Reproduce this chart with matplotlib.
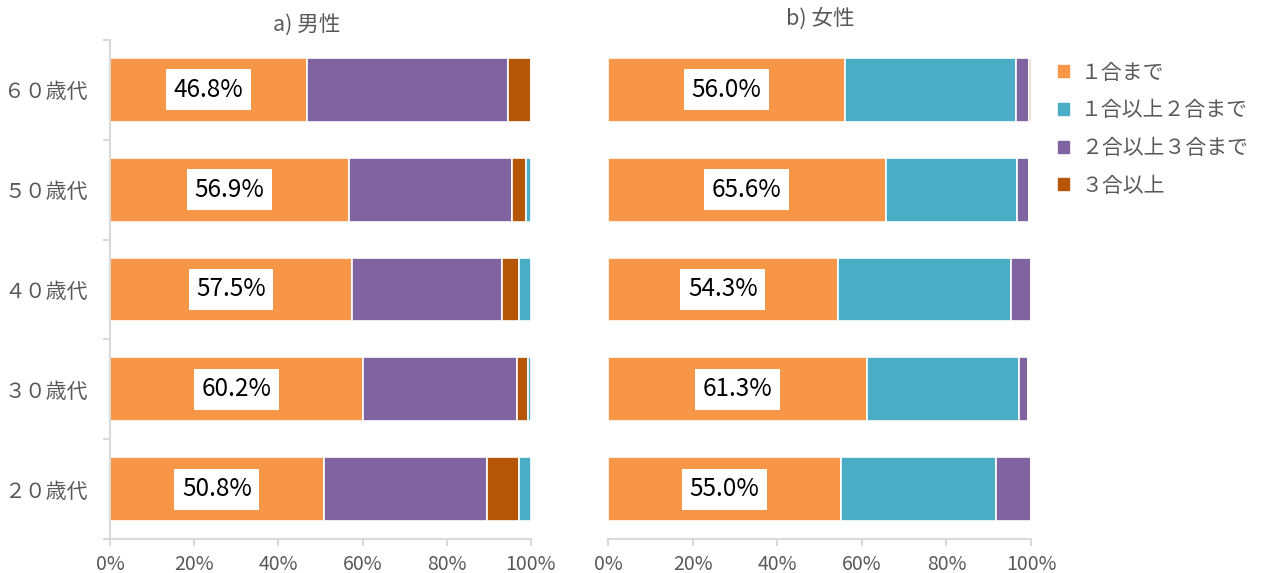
import matplotlib
matplotlib.use('Agg')
import matplotlib.pyplot as plt
import numpy as np

plt.rcParams['font.family'] = ['Noto Sans CJK JP', 'DejaVu Sans']

# 年代（上から60歳代）
ages = ['６０歳代', '５０歳代', '４０歳代', '３０歳代', '２０歳代']
series_names = ['１合まで', '１合以上２合まで', '２合以上３合まで', '３合以上']
colors = {'１合まで': '#F79646', '１合以上２合まで': '#4BACC6',
          '２合以上３合まで': '#8064A2', '３合以上': '#B65708'}

# a) 男性  (描画順: 1合まで, 2合以上3合まで, 3合以上, 1合以上2合まで)
male_order = ['１合まで', '２合以上３合まで', '３合以上', '１合以上２合まで']
male = {
    '１合まで':         [46.8, 56.9, 57.5, 60.2, 50.8],
    '２合以上３合まで': [47.7, 38.7, 35.7, 36.5, 38.7],
    '３合以上':         [5.5, 3.2, 3.9, 2.7, 7.7],
    '１合以上２合まで': [0.0, 1.2, 2.9, 0.6, 2.8],
}

# b) 女性
female_order = ['１合まで', '１合以上２合まで', '２合以上３合まで', '３合以上']
female = {
    '１合まで':         [56.0, 65.6, 54.3, 61.3, 55.0],
    '１合以上２合まで': [40.4, 31.2, 41.0, 35.9, 36.6],
    '２合以上３合まで': [3.2, 2.8, 4.7, 2.2, 8.4],
    '３合以上':         [0.4, 0.0, 0.0, 0.0, 0.0],
}

gray = '#595959'
fig = plt.figure(figsize=(12.71, 5.73), dpi=100)
ax1 = fig.add_axes([0.0865, 0.0593, 0.3312, 0.871])
ax2 = fig.add_axes([0.4784, 0.0593, 0.3328, 0.871])

y = np.arange(len(ages))


def draw(ax, data, order):
    left = np.zeros(len(ages))
    for name in order:
        vals = np.array(data[name])
        ax.barh(y, vals, left=left, height=0.64, color=colors[name],
                edgecolor='white', linewidth=1.2, label=name)
        left += vals
    for i, v in enumerate(data['１合まで']):
        ax.text(v / 2, y[i], f'{v:.1f}%', ha='center', va='center',
                fontsize=17.5, color='black',
                bbox=dict(facecolor='white', edgecolor='none', pad=5.5))
    ax.set_xlim(0, 100)
    ax.set_ylim(len(ages) - 0.5, -0.5)
    ax.set_xticks(np.arange(0, 101, 20))
    ax.set_xticklabels([f'{t}%' for t in range(0, 101, 20)],
                       fontsize=14, color=gray)
    ax.tick_params(axis='x', direction='out', length=5, color='#D9D9D9', width=1.5, pad=6)
    for s in ['top', 'right']:
        ax.spines[s].set_visible(False)
    ax.spines['bottom'].set_color('#D9D9D9')
    ax.spines['bottom'].set_linewidth(1.5)


draw(ax1, male, male_order)
draw(ax2, female, female_order)

# 左パネルのy軸
ax1.spines['left'].set_color('#D9D9D9')
ax1.spines['left'].set_linewidth(1.5)
ax1.set_yticks(np.arange(-0.5, len(ages), 1.0))
ax1.set_yticklabels([])
ax1.set_yticks(y, minor=True)
ax1.set_yticklabels(ages, minor=True, fontsize=15, color=gray)
ax1.tick_params(axis='y', which='major', direction='out', length=5, color='#D9D9D9', width=1.5)
ax1.tick_params(axis='y', which='minor', length=0, pad=16)

ax2.spines['left'].set_visible(False)
ax2.set_yticks([])

fig.text(0.2415, 0.955, 'a) 男性', ha='center', va='center', fontsize=15.5, color=gray)
fig.text(0.645, 0.968, 'b) 女性', ha='center', va='center', fontsize=15.5, color=gray)

handles = [plt.Rectangle((0, 0), 1, 1, color=colors[n]) for n in series_names]
fig.legend(handles, series_names, loc='upper left', bbox_to_anchor=(0.818, 0.925),
           frameon=False, fontsize=15, labelcolor=gray, handlelength=0.5,
           handleheight=0.5, handletextpad=0.6, labelspacing=0.75)

fig.savefig('out.png', dpi=100)
